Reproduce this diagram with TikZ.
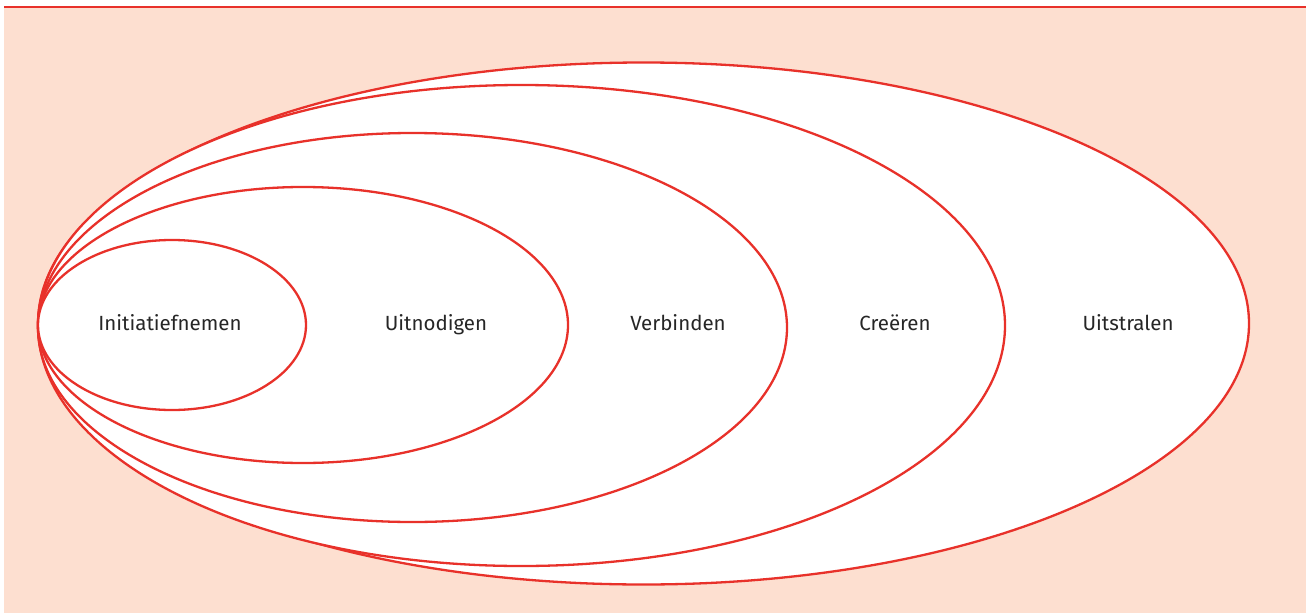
\documentclass[tikz,border=0pt]{standalone}
\usepackage{fontspec}
\setmainfont{Fira Sans}
\definecolor{peach}{HTML}{FDDFD0}
\definecolor{rred}{HTML}{E8312A}
\begin{document}
\begin{tikzpicture}[x=1pt,y=-1pt,
  ring/.style={draw=rred,line width=2.3pt,fill=white},
  lbl/.style={font=\fontsize{20.5}{24}\selectfont,text=black!85,anchor=base}]
\useasboundingbox (0,0) rectangle (1306,613);
\fill[peach] (4,7) rectangle (1306,613);
\draw[rred,line width=2pt] (4,7) -- (1306,7);
\draw[ring] (643.5,323.5) ellipse [x radius=605.5,y radius=261];
\draw[ring] (521.5,325.5) ellipse [x radius=483.5,y radius=240.5];
\draw[ring] (412.5,327.5) ellipse [x radius=374.5,y radius=194.5];
\draw[ring] (303,325) ellipse [x radius=265,y radius=138];
\draw[ring] (172,325) ellipse [x radius=134,y radius=85];
\node[lbl] (n1) at (170,330.5) {Initiatiefnemen};
\node[lbl] (n2) at (436,330.5) {Uitnodigen};
\node[lbl] (n3) at (678,330.5) {Verbinden};
\node[lbl] (n4) at (895,330.5) {Creëren};
\node[lbl] (n5) at (1128,330.5) {Uitstralen};
\end{tikzpicture}
\end{document}
